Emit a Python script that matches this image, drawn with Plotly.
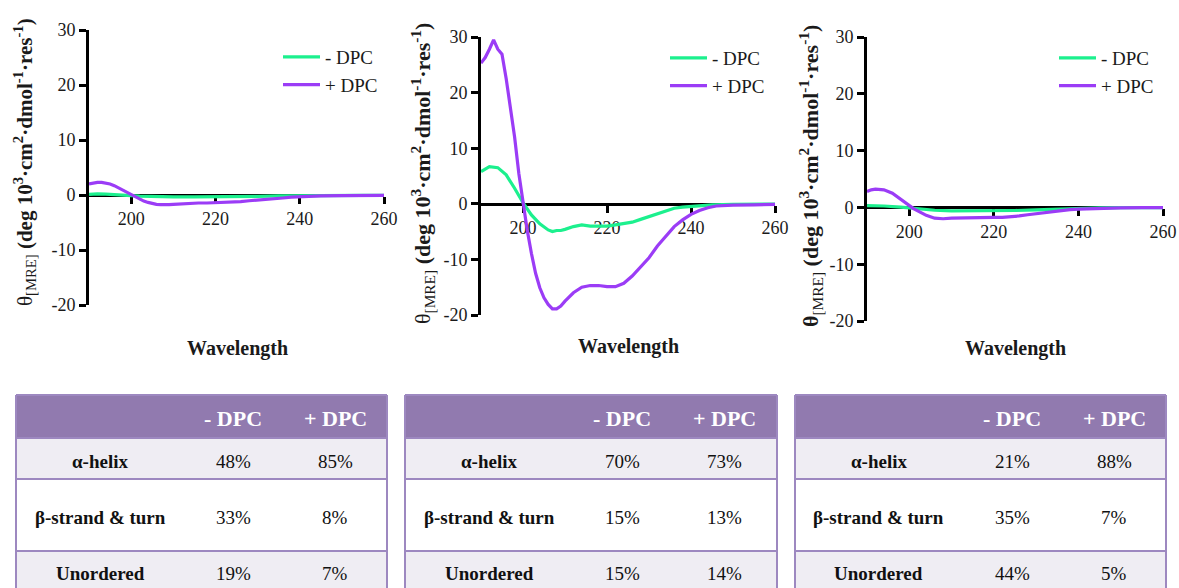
import plotly.graph_objects as go

W, H = 1179, 588
FONT = "Liberation Serif, DejaVu Serif"
GREEN = "#1CF08E"
PURPLE = "#9B3CF6"
HEADER = "#917AAF"
ROWLIGHT = "#EFEDF3"
BORDER = "#9D88C0"

# ---------------- data ----------------
p1_minus_x = [190, 192, 194, 196, 198, 200, 202, 205, 210, 215, 220, 225, 230, 235, 240, 245, 250, 255, 260]
p1_minus_y = [0.1, 0.2, 0.15, 0.1, 0.0, -0.1, -0.2, -0.3, -0.35, -0.35, -0.35, -0.3, -0.25, -0.15, -0.1, -0.05, -0.05, -0.05, -0.05]
p1_plus_x = [190, 191, 192, 193, 194, 195, 196, 197, 198, 199, 200, 201, 202, 203, 204, 205, 206, 207, 208, 209, 210,
             212, 214, 216, 218, 220, 222, 224, 226, 228, 230, 232, 234, 236, 238, 240, 242, 245, 250, 255, 260]
p1_plus_y = [2.0, 2.2, 2.3, 2.3, 2.2, 2.0, 1.7, 1.3, 0.9, 0.4, 0.0, -0.4, -0.8, -1.1, -1.35, -1.55, -1.7, -1.75, -1.8, -1.75, -1.7,
             -1.6, -1.5, -1.45, -1.45, -1.4, -1.35, -1.3, -1.2, -1.05, -0.95, -0.8, -0.65, -0.55, -0.4, -0.3, -0.25, -0.15, -0.1, -0.05, -0.05]

p2_minus_x = [190, 192, 194, 196, 198, 200, 202, 204, 206, 207, 208, 209, 210, 212, 214, 216, 218, 220, 222, 224, 226,
              228, 230, 232, 234, 236, 238, 240, 242, 245, 250, 255, 260]
p2_minus_y = [5.8, 6.7, 6.5, 5.2, 2.8, 0.2, -2.0, -3.6, -4.7, -5.0, -4.8, -4.8, -4.6, -4.1, -3.8, -4.0, -4.0, -4.0, -3.8, -3.6, -3.3,
              -2.8, -2.3, -1.8, -1.2, -0.8, -0.6, -0.45, -0.3, -0.2, -0.1, -0.05, -0.05]
p2_plus_x = [190, 191, 192, 193, 194, 195, 196, 197, 198, 199, 200, 201, 202, 203, 204, 205, 206, 207, 208, 209, 210,
             212, 214, 216, 218, 220, 222, 224, 226, 228, 230, 232, 234, 236, 238, 240, 242, 244, 246, 248, 250, 255, 260]
p2_plus_y = [25.3, 26.3, 27.8, 29.5, 27.8, 26.9, 22.5, 17.5, 12.0, 5.5, 0.1, -4.7, -8.9, -12.5, -15.1, -16.9, -18.1, -18.9, -18.9, -18.4, -17.5,
             -16.0, -15.0, -14.7, -14.7, -14.9, -14.9, -14.3, -13.0, -11.4, -9.7, -7.6, -5.8, -4.1, -2.9, -1.9, -1.2, -0.7, -0.4, -0.3, -0.25, -0.2, -0.1]

p3_minus_x = [190, 194, 198, 200, 202, 206, 210, 215, 220, 225, 230, 235, 240, 245, 250, 260]
p3_minus_y = [0.3, 0.25, 0.05, -0.1, -0.3, -0.5, -0.6, -0.6, -0.6, -0.55, -0.45, -0.3, -0.15, -0.1, -0.05, -0.05]
p3_plus_x = [190, 191, 192, 194, 196, 198, 200, 201, 202, 204, 206, 207, 208, 210, 212, 214, 216, 218, 220, 222, 224,
             226, 228, 230, 232, 234, 236, 238, 240, 243, 246, 250, 255, 260]
p3_plus_y = [2.8, 3.1, 3.2, 3.1, 2.5, 1.4, 0.3, -0.2, -0.6, -1.4, -1.9, -2.0, -2.0, -1.9, -1.85, -1.8, -1.8, -1.8, -1.75, -1.75, -1.65,
             -1.5, -1.3, -1.1, -0.9, -0.7, -0.55, -0.4, -0.3, -0.2, -0.15, -0.1, -0.05, -0.05]

series_names = ["- DPC", "+ DPC"]
y_tickvals = [-20, -10, 0, 10, 20, 30]
y_ticktext = ["-20", "-10", "0", "10", "20", "30"]
x_tickvals = [200, 220, 240, 260]
x_ticktext = ["200", "220", "240", "260"]
x_title = "Wavelength"

table_header = ["", "- DPC", "+ DPC"]
table_rows = ["α-helix", "β-strand &amp; turn", "Unordered"]
t1_minus = ["48%", "33%", "19%"]
t1_plus = ["85%", "8%", "7%"]
t2_minus = ["70%", "15%", "15%"]
t2_plus = ["73%", "13%", "14%"]
t3_minus = ["21%", "35%", "44%"]
t3_plus = ["88%", "7%", "5%"]

# ---------------- layout helpers ----------------
def px_x(v):
    return v / W

def px_y(v):
    return 1 - v / H

panels = [
    dict(xl=89, xr=384, yt=30, yb=305, tx=25, ty=162, ts=21, bt=False, wx=237, wy=348, lx=278, ly=38),
    dict(xl=481, xr=775, yt=37, yb=315, tx=422, ty=174, ts=22, bt=False, wx=628, wy=346, lx=665, ly=39),
    dict(xl=867, xr=1163, yt=37, yb=321, tx=810, ty=176, ts=22, bt=True, wx=1015, wy=348, lx=1054, ly=39),
]
data = [
    (p1_minus_x, p1_minus_y, p1_plus_x, p1_plus_y),
    (p2_minus_x, p2_minus_y, p2_plus_x, p2_plus_y),
    (p3_minus_x, p3_minus_y, p3_plus_x, p3_plus_y),
]

fig = go.Figure()
annotations = []
shapes = []
layout = {}

for i, (p, d) in enumerate(zip(panels, data)):
    n = "" if i == 0 else str(i + 1)
    leg = "legend" if i == 0 else f"legend{i + 1}"
    mx, my, px_, py_ = d
    fig.add_trace(go.Scatter(x=mx, y=my, mode="lines", name=series_names[0],
                             line=dict(color=GREEN, width=3.2), xaxis="x" + n, yaxis="y" + n,
                             legend=leg))
    fig.add_trace(go.Scatter(x=px_, y=py_, mode="lines", name=series_names[1],
                             line=dict(color=PURPLE, width=3.2), xaxis="x" + n, yaxis="y" + n,
                             legend=leg))
    ydom = [px_y(p["yb"]), px_y(p["yt"])]
    zero_pos = ydom[0] + (0 - (-20)) / 50 * (ydom[1] - ydom[0])
    layout["xaxis" + n] = dict(
        domain=[px_x(p["xl"]), px_x(p["xr"])], range=[190, 260], anchor="free", position=zero_pos,
        showline=True, linecolor="black", linewidth=2.6, showgrid=False, zeroline=False,
        ticks="outside", ticklen=7, tickwidth=2.6, tickcolor="black", automargin=False,
        tickvals=x_tickvals, ticktext=x_ticktext, layer="below traces",
        tickfont=dict(family=FONT, size=18, color="#1a1a1a"), fixedrange=True,
    )
    layout["yaxis" + n] = dict(
        domain=ydom, range=[-20, 30], anchor="x" + n, automargin=False,
        showline=True, linecolor="black", linewidth=2.6, showgrid=False, zeroline=False,
        ticks="outside", ticklen=7, tickwidth=2.6, tickcolor="black",
        tickvals=y_tickvals, ticktext=y_ticktext, layer="below traces",
        tickfont=dict(family=FONT, size=18, color="#1a1a1a"), fixedrange=True,
    )
    layout[leg] = dict(
        x=px_x(p["lx"]), y=px_y(p["ly"]), xanchor="left", yanchor="top",
        bgcolor="rgba(0,0,0,0)", borderwidth=0, itemwidth=37, traceorder="normal",
        font=dict(family=FONT, size=19, color="#1a1a1a"),
    )
    theta = "<b>θ</b>" if p["bt"] else "θ"
    ytitle = (theta + "<sub>[MRE]</sub> <b>(deg 10<sup>3</sup>·cm<sup>2</sup>·dmol<sup>-1</sup>"
              "·res<sup>-1</sup>)</b>")
    annotations.append(dict(text=ytitle, x=px_x(p["tx"]), y=px_y(p["ty"]), xref="paper", yref="paper",
                            xanchor="center", yanchor="middle", textangle=-90, showarrow=False,
                            font=dict(family=FONT, size=p["ts"], color="#1a1a1a")))
    annotations.append(dict(text="<b>" + x_title + "</b>", x=px_x(p["wx"]), y=px_y(p["wy"]),
                            xref="paper", yref="paper", xanchor="center", yanchor="middle",
                            showarrow=False, font=dict(family=FONT, size=20, color="#1a1a1a")))

# ---------------- tables ----------------
tables = [(16, 387, t1_minus, t1_plus), (405, 777, t2_minus, t2_plus), (795, 1166, t3_minus, t3_plus)]
row_bounds = [395, 438, 479, 551, 600]
row_fills = [HEADER, ROWLIGHT, "#FFFFFF", ROWLIGHT]
col_centers = [84, 217, 319]
text_y = [418, 461, 517, 573]

for (x0, x1, vm, vp) in tables:
    for r in range(4):
        shapes.append(dict(type="rect", xref="paper", yref="paper",
                           x0=px_x(x0), x1=px_x(x1), y0=px_y(row_bounds[r + 1]), y1=px_y(row_bounds[r]),
                           fillcolor=row_fills[r], line=dict(width=0), layer="below"))
    for b in row_bounds[:4]:
        shapes.append(dict(type="line", xref="paper", yref="paper", x0=px_x(x0), x1=px_x(x1),
                           y0=px_y(b), y1=px_y(b), line=dict(color=BORDER, width=2)))
    for xv in (x0, x1):
        shapes.append(dict(type="line", xref="paper", yref="paper", x0=px_x(xv), x1=px_x(xv),
                           y0=px_y(row_bounds[4]), y1=px_y(row_bounds[0]), line=dict(color=BORDER, width=2)))
    for c in (1, 2):
        annotations.append(dict(text="<b>" + table_header[c] + "</b>", x=px_x(x0 + col_centers[c]), y=px_y(text_y[0]),
                                xref="paper", yref="paper", xanchor="center", yanchor="middle", showarrow=False,
                                font=dict(family=FONT, size=22, color="white")))
    for r in range(3):
        annotations.append(dict(text="<b>" + table_rows[r] + "</b>", x=px_x(x0 + col_centers[0]), y=px_y(text_y[r + 1]),
                                xref="paper", yref="paper", xanchor="center", yanchor="middle", showarrow=False,
                                font=dict(family=FONT, size=19, color="#111")))
        for c, vals in ((1, vm), (2, vp)):
            annotations.append(dict(text=vals[r], x=px_x(x0 + col_centers[c]), y=px_y(text_y[r + 1]),
                                    xref="paper", yref="paper", xanchor="center", yanchor="middle", showarrow=False,
                                    font=dict(family=FONT, size=19, color="#111")))

fig.update_layout(
    template="none",
    width=W, height=H, margin=dict(l=0, r=0, t=0, b=0, pad=0, autoexpand=False),
    paper_bgcolor="white", plot_bgcolor="rgba(0,0,0,0)",
    showlegend=True, annotations=annotations, shapes=shapes,
    font=dict(family=FONT), **layout,
)

fig.write_html("out.html", config={"displayModeBar": False})
